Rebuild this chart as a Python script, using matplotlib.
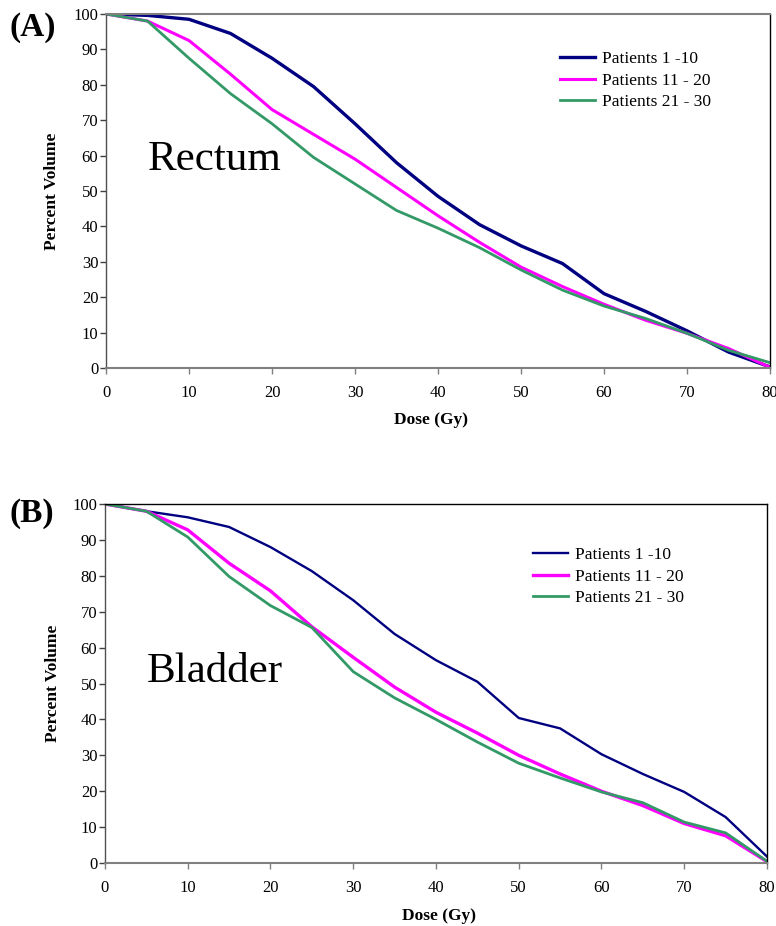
import matplotlib

matplotlib.use("Agg")
import matplotlib.pyplot as plt  # noqa: E402

plt.rcParams["font.family"] = ["Liberation Serif", "DejaVu Serif"]

dose = [0, 5, 10, 15, 20, 25, 30, 35, 40, 45, 50, 55, 60, 65, 70, 75, 80]
labels = ["Patients 1 -10", "Patients 11 - 20", "Patients 21 - 30"]
colors = ["#000080", "#FF00FF", "#339966"]

# (A) rectum DVH
rectum_1_10 = [100, 99.6, 98.5, 94.5, 87.5, 79.5, 69, 58, 48.5, 40.5, 34.5, 29.5, 21, 16, 10.5, 4.5, 0.3]
rectum_11_20 = [100, 98, 92.5, 83, 73, 66, 59, 51, 43, 35.5, 28.5, 23, 18, 13.5, 9.8, 5.5, 0.2]
rectum_21_30 = [100, 98, 87.5, 77.5, 69, 59.5, 52, 44.5, 39.5, 34, 27.7, 22, 17.5, 14, 9.8, 5, 1.5]

# (B) bladder DVH
bladder_1_10 = [100, 98, 96.3, 93.6, 88, 81.3, 73.2, 63.8, 56.5, 50.5, 40.4, 37.5, 30.3, 24.8, 19.8, 12.8, 1.8]
bladder_11_20 = [100, 98, 92.8, 83.5, 75.8, 65.8, 57.3, 49, 42, 36.2, 30, 24.8, 20, 16, 11, 7.6, 0.4]
bladder_21_30 = [100, 98, 90.8, 79.8, 71.7, 65.6, 53.3, 46, 40, 33.7, 27.8, 23.7, 19.8, 16.8, 11.4, 8.4, 0.5]

fig = plt.figure(figsize=(7.76, 9.26), dpi=100)


def draw_panel(ax, series, widths, organ, organ_xy, leg_anchor, lab_y, xlab_x):
    for vals, lab, c, lw in zip(series, labels, colors, widths):
        ax.plot(dose, vals, color=c, lw=lw, label=lab, solid_joinstyle="round")
    ax.set_xlim(0, 80)
    ax.set_ylim(0, 100)
    ax.set_xticks(range(0, 81, 10))
    ax.set_yticks(range(0, 101, 10))
    ax.tick_params(axis="x", direction="out", length=4, width=1, color="#808080",
                   labelsize=12, pad=8)
    ax.tick_params(axis="y", direction="out", length=4, width=1, color="#404040",
                   labelsize=12, pad=1.5)
    ax.spines["bottom"].set_color("#808080")
    ax.spines["bottom"].set_linewidth(1.5)
    ax.spines["left"].set_color("#505050")
    ax.spines["left"].set_linewidth(1.0)
    for side in ["top", "right"]:
        ax.spines[side].set_color("black")
        ax.spines[side].set_linewidth(1.0)
    ax.set_ylabel("Percent Volume", fontsize=12.5, fontweight="bold")
    ax.set_xlabel("Dose (Gy)", fontsize=12.5, fontweight="bold")
    ax.yaxis.set_label_coords(lab_y, 0.5)
    ax.xaxis.set_label_coords(xlab_x, -0.125)
    ax.text(organ_xy[0], organ_xy[1], organ, transform=ax.transAxes, fontsize=31,
            ha="center", va="center")
    ax.legend(loc="upper left", bbox_to_anchor=leg_anchor, frameon=False,
              fontsize=12.5, handlelength=2.0, handletextpad=0.4, labelspacing=0.3,
              borderpad=0, borderaxespad=0)


ax_a = fig.add_axes([0.1366, 0.6026, 0.8557, 0.3823])
draw_panel(ax_a, [rectum_1_10, rectum_11_20, rectum_21_30], [2.4, 2.2, 2.0],
           "Rectum", (0.164, 0.588), (0.684, 0.895), -0.069, 0.49)
ax_a.spines["top"].set_color("#808080")
ax_a.spines["top"].set_linewidth(1.5)

ax_b = fig.add_axes([0.1353, 0.0680, 0.8531, 0.3877])
draw_panel(ax_b, [bladder_1_10, bladder_11_20, bladder_21_30], [1.7, 2.4, 2.0],
           "Bladder", (0.166, 0.532), (0.647, 0.88), -0.066, 0.505)

fig.text(0.012, 0.97, "(A)", fontsize=24, fontweight="bold", ha="left", va="center")
fig.text(0.012, 0.446, "(B)", fontsize=24, fontweight="bold", ha="left", va="center")

fig.savefig("out.png", dpi=100)
